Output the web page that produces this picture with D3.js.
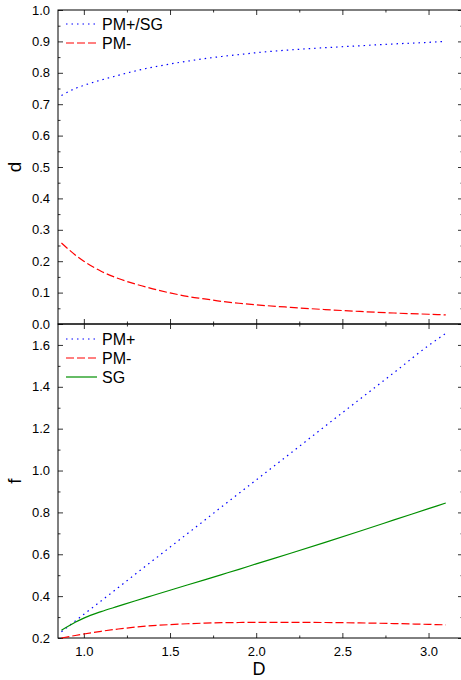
<!DOCTYPE html>
<html>
<head>
<meta charset="utf-8">
<script src="https://cdn.jsdelivr.net/npm/d3@7"></script>
<style>
  body { margin: 0; background: #fff; }
  svg { display: block; font-family: "Liberation Sans", Arial, sans-serif; }
</style>
</head>
<body>
<svg id="chart" width="461" height="680"></svg>
<script>
// values
var D      = [0.87, 0.95, 1.0, 1.1, 1.2, 1.3, 1.4, 1.5, 1.6, 1.7, 1.8, 1.9, 2.0, 2.2, 2.4, 2.6, 2.8, 3.0, 3.1];
var dPlus  = [0.728, 0.750, 0.760, 0.777, 0.792, 0.806, 0.818, 0.828, 0.837, 0.845, 0.852, 0.858, 0.864, 0.873, 0.880, 0.886, 0.892, 0.897, 0.900];
var dMinus = [0.258, 0.220, 0.200, 0.168, 0.145, 0.127, 0.112, 0.099, 0.088, 0.080, 0.072, 0.066, 0.061, 0.053, 0.046, 0.040, 0.035, 0.031, 0.029];
var fPlus  = [0.230, 0.281, 0.313, 0.377, 0.441, 0.506, 0.570, 0.634, 0.698, 0.762, 0.827, 0.891, 0.955, 1.083, 1.212, 1.340, 1.468, 1.597, 1.655];
var fSG    = [0.237, 0.275, 0.295, 0.326, 0.352, 0.378, 0.403, 0.428, 0.453, 0.478, 0.503, 0.528, 0.554, 0.605, 0.657, 0.710, 0.764, 0.818, 0.845];
var fMinus = [0.200, 0.212, 0.219, 0.232, 0.243, 0.252, 0.259, 0.264, 0.268, 0.271, 0.273, 0.274, 0.275, 0.275, 0.274, 0.272, 0.269, 0.265, 0.263];

var xTicks = [1.0, 1.5, 2.0, 2.5, 3.0];
var xMinor = [1.25, 1.75, 2.25, 2.75];
var dTicks = [0.0, 0.1, 0.2, 0.3, 0.4, 0.5, 0.6, 0.7, 0.8, 0.9, 1.0];
var dMinor = [0.05, 0.15, 0.25, 0.35, 0.45, 0.55, 0.65, 0.75, 0.85, 0.95];
var fTicks = [0.2, 0.4, 0.6, 0.8, 1.0, 1.2, 1.4, 1.6];
var fMinor = [0.3, 0.5, 0.7, 0.9, 1.1, 1.3, 1.5];

var left = 58, right = 463, top1 = 10, mid = 324, bottom = 638;

var svg = d3.select("#chart");

var x = d3.scaleLinear().domain([0.85, 3.2]).range([left, right]);
var yd = d3.scaleLinear().domain([0, 1]).range([mid, top1]);
var yf = d3.scaleLinear().domain([0.2, 1.7]).range([bottom, mid]);

function ticksOn(g, axis) {
  g.call(axis);
  g.select(".domain").remove();
  g.selectAll(".tick line").attr("stroke", "#333");
  g.selectAll(".tick text").attr("font-size", 13).attr("fill", "#000");
}

function panel(y, ticks, minor, yFmt) {
  // left axis with labels
  ticksOn(svg.append("g").attr("transform", "translate(" + left + ",0)"),
    d3.axisLeft(y).tickValues(ticks).tickSize(-5).tickPadding(8).tickFormat(d3.format(yFmt)));
  ticksOn(svg.append("g").attr("transform", "translate(" + left + ",0)"),
    d3.axisLeft(y).tickValues(minor).tickSize(-2.5).tickFormat(""));
  // mirrored right ticks
  ticksOn(svg.append("g").attr("transform", "translate(" + right + ",0)"),
    d3.axisRight(y).tickValues(ticks).tickSize(-5).tickFormat(""));
  ticksOn(svg.append("g").attr("transform", "translate(" + right + ",0)"),
    d3.axisRight(y).tickValues(minor).tickSize(-2.5).tickFormat(""));
  // x ticks top and bottom of panel
  var yTop = y.range()[1], yBot = y.range()[0];
  ticksOn(svg.append("g").attr("transform", "translate(0," + yTop + ")"),
    d3.axisTop(x).tickValues(xTicks).tickSize(-5).tickFormat(""));
  ticksOn(svg.append("g").attr("transform", "translate(0," + yTop + ")"),
    d3.axisTop(x).tickValues(xMinor).tickSize(-2.5).tickFormat(""));
  ticksOn(svg.append("g").attr("transform", "translate(0," + yBot + ")"),
    d3.axisBottom(x).tickValues(xTicks).tickSize(-5).tickFormat(""));
  ticksOn(svg.append("g").attr("transform", "translate(0," + yBot + ")"),
    d3.axisBottom(x).tickValues(xMinor).tickSize(-2.5).tickFormat(""));
  svg.append("rect")
    .attr("x", left).attr("y", yTop)
    .attr("width", right - left).attr("height", yBot - yTop)
    .attr("fill", "none").attr("stroke", "#000").attr("stroke-width", 1);
}

panel(yd, dTicks, dMinor, ".1f");
panel(yf, fTicks, fMinor, ".1f");

// x labels at bottom
var xa = svg.append("g").attr("transform", "translate(0," + bottom + ")")
  .call(d3.axisBottom(x).tickValues(xTicks).tickSize(0).tickPadding(9).tickFormat(d3.format(".1f")));
xa.select(".domain").remove();
xa.selectAll("text").attr("font-size", 13).attr("fill", "#000");

var blue = "#0000ff", red = "#ff0000", green = "#008f00";
var dotted = "1.5,4", dashed = "8,3";

function curve(y, vals, color, dash) {
  var line = d3.line()
    .x(function(d, i) { return x(D[i]); })
    .y(function(d) { return y(d); })
    .curve(d3.curveMonotoneX);
  svg.append("path")
    .attr("d", line(vals))
    .attr("fill", "none")
    .attr("stroke", color)
    .attr("stroke-width", 1.2)
    .attr("stroke-dasharray", dash);
}

curve(yd, dPlus, blue, dotted);
curve(yd, dMinus, red, dashed);
curve(yf, fPlus, blue, dotted);
curve(yf, fSG, green, null);
curve(yf, fMinus, red, dashed);

// legends
function legend(items, y0) {
  items.forEach(function(it, i) {
    var yy = y0 + i * 19;
    svg.append("line")
      .attr("x1", 66).attr("x2", 97).attr("y1", yy).attr("y2", yy)
      .attr("stroke", it.color).attr("stroke-width", 1.2)
      .attr("stroke-dasharray", it.dash);
    svg.append("text")
      .attr("x", 102).attr("y", yy + 5.5)
      .attr("font-size", 16)
      .text(it.name);
  });
}
legend([{name: "PM+/SG", color: blue, dash: dotted},
        {name: "PM-", color: red, dash: dashed}], 24);
legend([{name: "PM+", color: blue, dash: dotted},
        {name: "PM-", color: red, dash: dashed},
        {name: "SG", color: green, dash: null}], 339);

// axis titles
svg.append("text").attr("transform", "translate(21,167) rotate(-90)")
  .attr("text-anchor", "middle").attr("font-size", 19).text("d");
svg.append("text").attr("transform", "translate(21,481) rotate(-90)")
  .attr("text-anchor", "middle").attr("font-size", 19).text("f");
svg.append("text").attr("x", 259).attr("y", 675)
  .attr("text-anchor", "middle").attr("font-size", 18).text("D");
</script>
</body>
</html>
